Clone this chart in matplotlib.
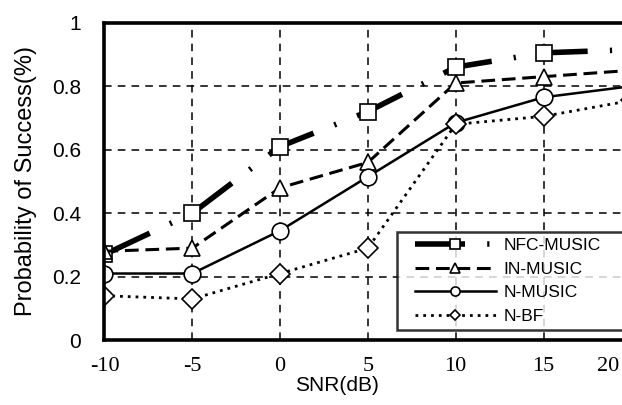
import matplotlib
matplotlib.use("Agg")
import matplotlib.pyplot as plt
from matplotlib.legend_handler import HandlerLine2D

snr = [-10, -5, 0, 5, 10, 15, 20]
nfc_music = [0.27, 0.40, 0.61, 0.72, 0.86, 0.905, 0.915]
in_music = [0.28, 0.29, 0.48, 0.56, 0.81, 0.83, 0.85]
n_music = [0.21, 0.21, 0.345, 0.515, 0.685, 0.765, 0.80]
n_bf = [0.14, 0.13, 0.21, 0.29, 0.68, 0.705, 0.755]
yticks = [0, 0.2, 0.4, 0.6, 0.8, 1]
ytick_labels = ["0", "0.2", "0.4", "0.6", "0.8", "1"]
xtick_labels = ["-10", "-5", "0", "5", "10", "15", "20"]


class OffsetHandler(HandlerLine2D):
    def __init__(self, off=8, **kw):
        super().__init__(**kw)
        self.off = off

    def create_artists(self, legend, orig_handle, xdescent, ydescent, width,
                       height, fontsize, trans):
        return super().create_artists(legend, orig_handle, xdescent - self.off,
                                      ydescent, width - self.off, height,
                                      fontsize, trans)


fig = plt.figure(figsize=(6.22, 4.05), dpi=100)
ax = fig.add_axes([0.168, 0.160, 0.847, 0.784])

mk = dict(markerfacecolor="white", markeredgecolor="black", markeredgewidth=1.2, color="black")
l1, = ax.plot(snr, nfc_music, marker="s", markersize=12, lw=4.0,
              linestyle=(0, (9, 4, 0.4, 4)), label="NFC-MUSIC", **mk)
l2, = ax.plot(snr, in_music, marker="^", markersize=12, lw=2.2,
              linestyle=(0, (4.5, 2.2)), label="IN-MUSIC", **mk)
l3, = ax.plot(snr, n_music, marker="o", markersize=12, lw=1.8,
              linestyle="-", label="N-MUSIC", **mk)
l4, = ax.plot(snr, n_bf, marker="D", markersize=10, lw=2.0,
              linestyle=(0, (1, 1.8)), label="N-BF", **mk)

ax.set_xlim(-10, 20)
ax.set_ylim(0, 1)
ax.set_xticks(snr)
# last tick label is drawn shifted left (as in the original, squeezed at the edge)
ax.set_xticklabels(xtick_labels[:-1] + [""], family="Liberation Serif", fontsize=16)
ax.annotate(xtick_labels[-1], xy=(snr[-1], 0), xycoords=ax.get_xaxis_transform(),
            xytext=(-9, -12), textcoords="offset points", ha="right", va="top",
            family="Liberation Serif", fontsize=16, annotation_clip=False)
ax.set_yticks(yticks)
ax.set_yticklabels(ytick_labels, family="Liberation Sans", fontsize=15)
ax.tick_params(axis="y", length=0, pad=17)
ax.tick_params(axis="x", length=0, pad=12)
ax.grid(True, color="black", linestyle=(0, (5, 4)), linewidth=1.1)
for s in ax.spines.values():
    s.set_linewidth(2.6)
ax.set_xlabel("SNR(dB)", family="Liberation Sans", fontsize=15)
ax.xaxis.set_label_coords((338 - 105) / 527, -0.113)
ax.set_ylabel("Probability of Success(%)", family="Liberation Sans", fontsize=17)
ax.yaxis.set_label_coords(-0.128, 0.5)

hm = {h: OffsetHandler(off=8) for h in (l1, l2, l3, l4)}
leg = ax.legend(loc="lower left", bbox_to_anchor=(0.556, 0.031, 0.5, 0.3),
                mode="expand", borderaxespad=0,
                frameon=True, fancybox=False, edgecolor="black", markerscale=0.55,
                handlelength=5.3, handletextpad=0.46, labelspacing=0.5, borderpad=0.35,
                handler_map=hm,
                prop={"family": "Liberation Sans", "size": 12.5})
leg.get_frame().set_linewidth(1.8)

fig.savefig("out.png", dpi=100)
